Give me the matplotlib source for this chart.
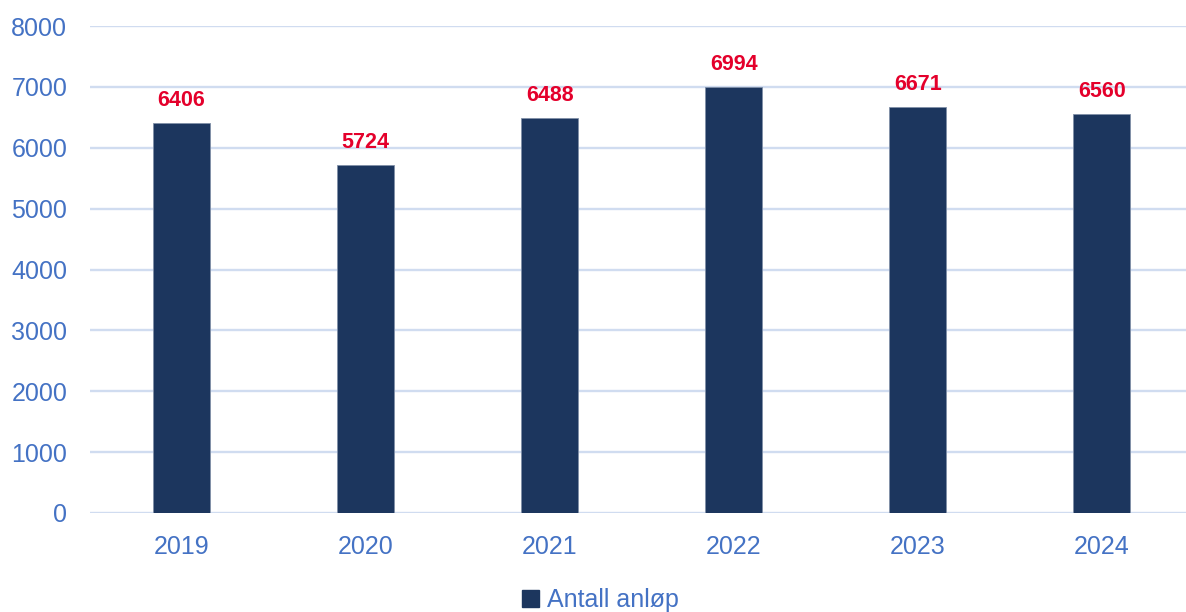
import matplotlib
matplotlib.use("Agg")
import matplotlib.pyplot as plt
from matplotlib.patches import Patch

years = ["2019", "2020", "2021", "2022", "2023", "2024"]
values = [6406, 5724, 6488, 6994, 6671, 6560]
series_name = "Antall anløp"
yticks = [0, 1000, 2000, 3000, 4000, 5000, 6000, 7000, 8000]

W, H = 1186, 612
fig = plt.figure(figsize=(W / 100, H / 100), dpi=100)
plt.rcParams['font.family'] = ['Liberation Sans', 'DejaVu Sans']

left, right, top, bottom = 89.5, 1194.0, 26.0, 513.0
ax = fig.add_axes([left / W, 1 - bottom / H, (right - left) / W, (bottom - top) / H])

bar_color = "#1C365E"
tick_color = "#4472C4"
label_color = "#E4002B"
grid_color = "#D0DCF0"

x = list(range(len(years)))
ax.bar(x, values, width=0.31, color=bar_color, zorder=3, edgecolor="#8090A8", linewidth=0.6)
ax.set_xlim(-0.5, len(years) - 0.5)
ax.set_ylim(0, 8000)
ax.set_yticks(yticks)
ax.set_yticklabels([str(v) for v in yticks])
ax.set_xticks(x)
ax.set_xticklabels(years)
ax.tick_params(axis='both', length=0, labelsize=18, colors=tick_color)
ax.tick_params(axis='y', pad=16)
ax.tick_params(axis='x', pad=16)
ax.yaxis.grid(True, color=grid_color, linewidth=1.7, zorder=0)
for s in ax.spines.values():
    s.set_visible(False)

for xi, v in zip(x, values):
    ax.annotate(str(v), (xi, v), xytext=(0, 8.5), textcoords="offset points",
                ha="center", va="bottom", color=label_color, fontsize=15.5, fontweight="bold")

handle = Patch(facecolor=bar_color, edgecolor=bar_color)
fig.legend([handle], [series_name], loc="center", bbox_to_anchor=(600 / W, 1 - 600 / H),
           frameon=False, fontsize=18, labelcolor=tick_color, handlelength=0.7, handleheight=0.7,
           handletextpad=0.3)

fig.savefig("out.png", dpi=100)
